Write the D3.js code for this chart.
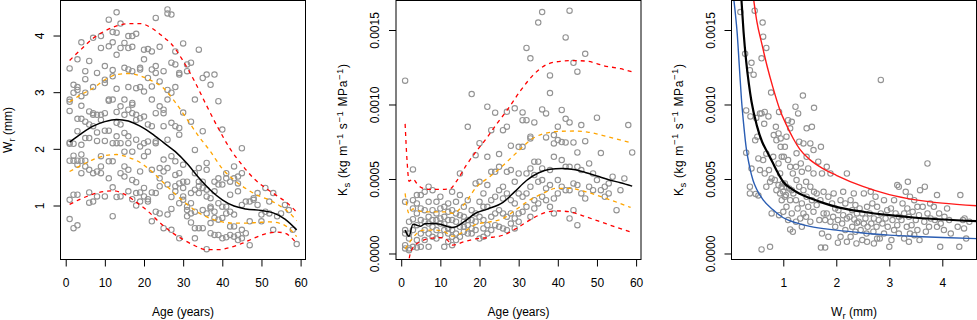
<!DOCTYPE html>
<html>
<head>
<meta charset="utf-8">
<script src="https://cdn.jsdelivr.net/npm/d3@7"></script>
<style>
  body { margin: 0; background: #fff; }
  svg { display: block; font-family: "Liberation Sans", Arial, sans-serif; }
</style>
</head>
<body>
<svg id="drawing_region"></svg>
<script>
// Ks values below are written in units of 1e-4 (kg m-1 s-1 MPa-1)
const KS_UNIT = 1e-4;

// panel 1: ring width Wr (mm) per age (years)
const wrByAge = [
  [1, [3.42, 2.87, 2.83, 2.67, 2.11, 2.09, 1.79, 1.10, 0.76]],
  [2, [3.13, 2.99, 2.09, 1.88, 1.79, 1.19, 0.60]],
  [3, [3.58, 3.09, 3.04, 2.53, 2.31, 1.79, 1.72, 1.19, 0.65]],
  [4, [3.88, 2.93, 2.76, 2.53, 2.07, 1.90, 1.79, 1.57]],
  [5, [3.37, 3.23, 2.99, 2.48, 2.19, 1.79, 1.69]],
  [6, [3.55, 2.66, 2.43, 2.19, 1.63, 1.23, 1.05]],
  [7, [3.96, 3.09, 2.63, 2.60, 2.40, 1.57, 1.07]],
  [8, [3.34, 2.60, 2.29, 2.14, 1.60, 1.16]],
  [9, [3.99, 3.78, 2.60, 2.51, 1.87, 1.69, 1.57]],
  [10, [3.46, 3.22, 3.16, 2.63, 2.32, 2.14, 1.16]],
  [11, [4.28, 3.81, 2.87, 2.85, 2.32, 1.78, 1.48]],
  [12, [4.06, 3.88, 3.39, 3.28, 2.87, 2.10, 1.78, 1.32, 0.81]],
  [13, [4.41, 4.05, 3.66, 3.06, 2.65, 2.46, 2.22, 2.10, 1.15]],
  [14, [4.21, 3.78, 2.75, 2.43, 2.10, 1.57, 1.16]],
  [15, [3.87, 3.43, 2.87, 2.60, 2.28, 1.95, 1.69, 1.51]],
  [16, [3.99, 3.78, 3.40, 3.09, 2.69, 2.22, 2.10, 1.63, 1.25]],
  [17, [3.99, 3.80, 3.37, 2.81, 2.78, 2.63, 1.95, 1.45, 1.11]],
  [18, [4.03, 3.07, 2.60, 2.51, 2.16, 1.41, 1.22, 1.00]],
  [19, [3.43, 3.40, 3.09, 2.54, 2.04, 1.60, 1.23, 1.07]],
  [20, [3.75, 3.58, 3.01, 2.57, 2.10, 1.87, 1.31, 1.16]],
  [21, [3.76, 3.25, 2.43, 2.13, 1.95, 1.11, 1.07]],
  [22, [3.72, 3.40, 3.10, 2.87, 2.40, 1.63, 1.23, 0.72]],
  [23, [4.31, 3.46, 3.34, 2.63, 2.13, 2.10, 1.22, 0.89]],
  [24, [3.80, 3.19, 2.75, 1.66, 1.48, 1.34, 0.86]],
  [25, [3.37, 2.69, 2.63, 2.40, 1.81, 1.60, 0.60]],
  [26, [4.46, 4.39, 3.04, 2.87, 2.16, 1.66, 1.37, 0.84]],
  [27, [4.37, 3.52, 2.99, 2.46, 1.87, 1.15, 0.94, 0.57]],
  [28, [3.72, 3.49, 3.09, 2.40, 1.78, 1.54, 1.34, 1.25]],
  [29, [3.34, 3.31, 2.37, 2.25, 1.57, 1.39, 1.04, 0.42]],
  [30, [3.86, 2.64, 1.72, 1.42, 1.31, 1.16, 1.10]],
  [31, [3.49, 3.37, 1.42, 0.98, 0.92, 0.81]],
  [32, [3.52, 2.48, 1.22, 1.04, 0.86, 0.70]],
  [33, [2.87, 1.98, 1.57, 1.28, 0.89, 0.60, 0.42]],
  [34, [3.75, 1.66, 1.42, 1.34, 1.22, 0.60]],
  [35, [3.25, 2.31, 1.42, 1.31, 0.92, 0.60]],
  [36, [3.31, 1.75, 1.63, 1.28, 1.16, 0.86, 0.23]],
  [37, [3.13, 1.13, 0.98, 0.95, 0.69, 0.51]],
  [38, [3.31, 1.42, 1.25, 0.89, 0.78, 0.48]],
  [39, [2.84, 1.48, 1.37, 1.04, 0.75, 0.48]],
  [40, [2.34, 1.37, 0.98, 0.78, 0.42]],
  [41, [1.57, 1.48, 0.98, 0.86, 0.44]],
  [42, [1.42, 1.19, 0.89, 0.63, 0.48]],
  [43, [1.69, 1.48, 0.84, 0.63, 0.45]],
  [44, [1.51, 1.39, 1.25, 0.48, 0.39]],
  [45, [2.01, 1.57, 1.01, 0.57, 0.42]],
  [46, [1.07, 0.51]],
  [47, [1.07, 0.72, 0.30]],
  [48, [1.13, 1.10]],
  [49, [1.22, 1.01]],
  [50, [0.84, 0.72]],
  [51, [1.31, 0.89]],
  [52, [1.07, 0.86]],
  [53, [1.22, 0.57]],
  [54, [0.81]],
  [55, [0.86]],
  [56, [1.01]],
  [57, [0.92]],
  [58, [0.57]],
  [59, [0.32]]
];

// panel 2: Ks (x 1e-4) per age
const ksByAge = [
  [1, [11.6, 3.47, 1.57, 1.34, 0.56, 0.34]],
  [2, [2.13, 1.34, 1.0, 0.34, 0.22]],
  [3, [5.64, 3.58, 3.02, 2.3, 1.57, 0.45]],
  [4, [3.92, 3.36, 2.69, 1.9, 0.9, 0.4]],
  [5, [3.92, 3.02, 2.24, 1.34, 0.45]],
  [6, [4.14, 2.91, 2.13, 1.57, 0.9]],
  [7, [4.48, 3.47, 2.46, 2.01, 1.34, 0.45]],
  [8, [4.25, 2.91, 2.24, 1.79, 1.12]],
  [9, [3.47, 2.69, 2.24, 1.57, 1.0]],
  [10, [3.81, 3.02, 2.35, 2.01, 1.23]],
  [11, [3.13, 2.46, 2.0, 1.57, 0.45]],
  [12, [3.36, 2.8, 2.24, 1.68, 1.34, 0.78]],
  [13, [4.14, 2.91, 2.24, 1.57, 1.12, 0.56]],
  [14, [3.47, 2.69, 2.13, 1.34, 0.9]],
  [15, [5.37, 3.92, 2.57, 1.79, 1.12]],
  [16, [3.13, 2.46, 2.13, 1.79, 1.46]],
  [17, [8.5, 3.58, 2.24, 1.9, 1.34]],
  [18, [10.7, 2.91, 2.24, 1.68, 1.34]],
  [19, [6.6, 4.7, 2.69, 2.13, 1.57]],
  [20, [7.4, 4.81, 3.47, 2.46, 1.0]],
  [21, [4.03, 3.13, 2.24, 1.68, 1.12]],
  [22, [9.85, 6.49, 4.59, 3.13, 1.9, 1.34]],
  [23, [8.28, 5.48, 3.58, 2.46, 1.57]],
  [24, [9.45, 5.48, 3.81, 2.69, 1.9]],
  [25, [6.67, 5.82, 4.25, 2.91, 1.79]],
  [26, [8.28, 4.48, 3.69, 2.69, 1.68]],
  [27, [9.51, 8.51, 5.48, 4.03, 2.46, 1.57]],
  [28, [7.23, 5.6, 3.58, 2.69, 2.01]],
  [29, [9.74, 4.81, 3.36, 2.35, 1.68]],
  [30, [7.16, 5.37, 4.03, 2.69, 2.13]],
  [31, [9.47, 8.95, 7.16, 3.81, 2.8]],
  [32, [13.8, 8.95, 5.37, 4.03, 3.13]],
  [33, [13.1, 7.84, 7.72, 5.71, 4.48, 2.46]],
  [34, [8.8, 6.16, 5.26, 3.58, 3.02]],
  [35, [15.5, 6.16, 4.81, 3.36]],
  [36, [16.2, 9.67, 5.71, 4.93, 3.81]],
  [37, [9.4, 7.79, 4.37, 3.58]],
  [38, [11.95, 10.77, 5.6, 4.59, 3.13]],
  [39, [7.95, 7.39, 6.49, 3.69, 2.69]],
  [40, [8.51, 7.61, 4.93, 4.03]],
  [41, [9.63, 7.48, 6.27, 4.48]],
  [42, [14.5, 9.04, 7.45, 5.82, 4.25]],
  [43, [16.3, 8.8, 5.82, 4.25, 2.35]],
  [44, [12.8, 7.45, 4.7, 2.91]],
  [45, [12.2, 6.78, 5.82, 4.59, 1.9]],
  [46, [8.62, 5.6, 4.03]],
  [47, [13.4, 7.54, 3.69]],
  [48, [6.04, 4.48]],
  [49, [5.37, 4.25]],
  [50, [9.11, 4.93]],
  [51, [6.74, 4.25]],
  [52, [4.48, 3.81]],
  [53, [4.7, 4.03]],
  [54, [5.15]],
  [55, [2.91]],
  [56, [4.25]],
  [57, [5.04]],
  [58, [8.62]],
  [59, [6.78]]
];

// panel 3: [Wr (mm), Ks (x 1e-4)]
const ksByWr = [
  [0.19, 16.2], [0.28, 13.4], [0.37, 12.3], [0.40, 12.8], [0.30, 9.6], [0.38, 9.2], [0.30, 6.76], [0.40, 5.7], [0.37, 4.03], [0.37, 4.48],
  [0.46, 16.3], [0.44, 12.0], [0.51, 7.84], [0.47, 7.6], [0.49, 9.1], [0.56, 9.4], [0.53, 6.38], [0.56, 5.6], [0.48, 4.0], [0.53, 3.9], [0.59, 0.27],
  [0.61, 15.5], [0.62, 14.55], [0.68, 13.8], [0.59, 13.1], [0.77, 10.8], [0.65, 9.5], [0.59, 9.4], [0.72, 9.2], [0.64, 8.7], [0.68, 6.7], [0.62, 6.27],
  [0.73, 5.6], [0.65, 5.37], [0.68, 4.48], [0.75, 4.81], [0.78, 5.04], [0.78, 2.69], [0.75, 0.45],
  [0.92, 9.5], [0.86, 8.5], [0.91, 8.06], [0.82, 7.95], [0.95, 7.72], [0.87, 7.6], [0.95, 7.16], [0.81, 6.49], [0.91, 6.04], [0.97, 6.49], [0.94, 5.37],
  [0.84, 4.93], [0.91, 4.59], [0.97, 4.48], [0.87, 4.25], [0.94, 4.03], [0.97, 3.58], [1.0, 2.8], [0.92, 2.57], [0.99, 4.7],
  [1.09, 8.95], [1.16, 8.84], [1.13, 8.4], [1.06, 7.84], [1.03, 7.16], [1.01, 6.49], [1.09, 6.27], [1.13, 5.82], [1.18, 5.37], [1.03, 4.7], [1.06, 4.48],
  [1.11, 4.37], [1.16, 4.25], [1.19, 4.03], [1.03, 3.81], [1.13, 3.58], [1.06, 3.13], [1.16, 2.69], [1.09, 2.24], [1.13, 1.61], [1.18, 1.46], [1.05, 3.92], [1.0, 4.14],
  [1.37, 10.6], [1.23, 9.85], [1.28, 9.4], [1.30, 7.5], [1.38, 7.39], [1.25, 6.72], [1.33, 6.04], [1.24, 5.82], [1.35, 5.48], [1.25, 4.93], [1.30, 4.48],
  [1.38, 4.25], [1.24, 3.58], [1.35, 3.36], [1.27, 3.02], [1.38, 2.69], [1.32, 2.35], [1.24, 2.13], [1.35, 1.79],
  [1.58, 9.78], [1.54, 8.5], [1.44, 8.4], [1.51, 7.39], [1.57, 6.94], [1.44, 6.49], [1.47, 5.71], [1.57, 5.37], [1.43, 4.81], [1.51, 4.48], [1.58, 4.14],
  [1.44, 3.81], [1.54, 3.58], [1.47, 3.13], [1.57, 2.8], [1.43, 2.46], [1.51, 2.13],
  [1.71, 7.16], [1.66, 6.16], [1.73, 5.37], [1.63, 4.03], [1.76, 4.14], [1.70, 3.58], [1.63, 3.25], [1.76, 2.69], [1.68, 2.24], [1.79, 2.24], [1.73, 1.34], [1.71, 0.4], [1.79, 0.4],
  [1.82, 5.82], [1.89, 5.37], [1.95, 4.03], [1.85, 3.81], [1.92, 3.36], [1.98, 3.02], [1.82, 2.69], [1.94, 2.46], [1.89, 2.13], [1.98, 1.79], [1.85, 1.12],
  [2.20, 5.37], [2.13, 4.14], [2.08, 3.58], [2.17, 3.36], [2.04, 2.91], [2.13, 2.57], [2.20, 2.35], [2.03, 2.24], [2.11, 2.01], [2.17, 1.57], [2.08, 1.12], [2.20, 0.78], [2.03, 0.72],
  [2.33, 4.03], [2.27, 3.58], [2.36, 3.25], [2.30, 2.91], [2.39, 2.69], [2.25, 2.46], [2.34, 2.28], [2.39, 2.06], [2.30, 1.79], [2.36, 1.46], [2.27, 1.12], [2.38, 0.67],
  [2.52, 4.03], [2.44, 3.02], [2.58, 3.13], [2.49, 2.69], [2.55, 2.35], [2.42, 2.13], [2.52, 2.01], [2.59, 1.79], [2.46, 1.57], [2.57, 1.34], [2.49, 0.9], [2.58, 0.78],
  [2.65, 4.14], [2.74, 3.81], [2.68, 3.36], [2.77, 3.13], [2.63, 2.69], [2.71, 2.35], [2.80, 2.24], [2.66, 2.01], [2.76, 1.79], [2.70, 1.46], [2.77, 1.0], [2.71, 0.67],
  [2.84, 11.65], [2.90, 3.58], [2.96, 2.91], [2.84, 2.69], [2.93, 2.35], [2.87, 2.01], [2.97, 1.79], [2.90, 1.34], [2.82, 1.0], [3.0, 0.45],
  [3.15, 4.59], [3.18, 4.48], [3.09, 3.58], [3.03, 3.02], [3.12, 2.69], [3.18, 2.46], [3.06, 2.24], [3.15, 1.9], [3.09, 1.57], [3.18, 1.34], [3.04, 0.9],
  [3.35, 4.81], [3.31, 4.14], [3.39, 3.81], [3.25, 3.36], [3.34, 3.02], [3.28, 2.69], [3.37, 2.46], [3.23, 2.24], [3.33, 1.79], [3.39, 1.34], [3.28, 1.0], [3.37, 0.78],
  [3.58, 4.25], [3.47, 3.58], [3.53, 3.13], [3.44, 2.8], [3.56, 2.57], [3.50, 2.24], [3.42, 1.9], [3.53, 1.57], [3.47, 1.23], [3.57, 0.9],
  [3.72, 6.04], [3.67, 4.48], [3.77, 3.36], [3.63, 3.13], [3.72, 2.69], [3.78, 2.35], [3.66, 2.13], [3.75, 1.79], [3.69, 1.46],
  [3.90, 3.92], [3.84, 3.13], [3.94, 2.69], [3.86, 2.24], [3.97, 2.01], [3.90, 1.79], [3.96, 0.45],
  [4.09, 3.02], [4.04, 2.46], [4.13, 2.24], [4.03, 1.57], [4.16, 1.34],
  [4.34, 3.92], [4.29, 1.79], [4.39, 2.24], [4.32, 0.45],
  [4.42, 2.35], [4.51, 2.13], [4.45, 1.0], [4.41, 1.68]
];

// fitted curves: [age, Wr]
const wrMean = [[1, 2.12], [4, 2.27], [7, 2.4], [10, 2.48], [13, 2.52], [16, 2.49], [19, 2.4], [22, 2.27], [25, 2.11], [28, 1.95], [31, 1.74], [34, 1.49], [37, 1.27], [40, 1.1], [43, 0.99], [46, 0.94], [50, 0.91], [53, 0.87], [56, 0.76], [59, 0.57]];
const wrUpper95 = [[1, 3.56], [4, 3.76], [7, 3.95], [10, 4.08], [13, 4.17], [16, 4.21], [19, 4.21], [22, 4.13], [25, 3.97], [27, 3.85], [30, 3.55], [33, 3.18], [36, 2.76], [39, 2.36], [42, 2.0], [45, 1.72], [48, 1.48], [51, 1.31], [54, 1.17], [57, 1.02], [59, 0.88]];
const wrUpper50 = [[1, 2.83], [4, 2.96], [7, 3.07], [10, 3.22], [13, 3.31], [16, 3.33], [19, 3.29], [22, 3.2], [25, 3.07], [28, 2.82], [31, 2.52], [34, 2.22], [37, 1.95], [40, 1.65], [43, 1.45], [46, 1.3], [49, 1.18], [52, 1.1], [55, 0.98], [57, 0.88], [59, 0.73]];
const wrLower50 = [[1, 1.6], [4, 1.71], [7, 1.81], [10, 1.88], [13, 1.9], [16, 1.85], [19, 1.76], [22, 1.6], [25, 1.4], [28, 1.2], [31, 1.02], [34, 0.87], [37, 0.77], [40, 0.71], [43, 0.69], [46, 0.69], [49, 0.7], [52, 0.71], [55, 0.68], [57, 0.6], [59, 0.45]];
const wrLower95 = [[1, 1.02], [4, 1.12], [7, 1.2], [10, 1.25], [12, 1.26], [15, 1.2], [18, 1.06], [21, 0.9], [24, 0.7], [27, 0.53], [30, 0.4], [33, 0.29], [36, 0.22], [39, 0.22], [42, 0.26], [45, 0.33], [48, 0.42], [51, 0.5], [54, 0.53], [56, 0.51], [59, 0.33]];

// [age, Ks x 1e-4]
const ksMean = [[1, 1.57], [2, 1.16], [3, 1.97], [4, 1.9], [5, 1.83], [6, 2.0], [8, 2.02], [10, 1.97], [12, 1.8], [13, 1.75], [14, 1.8], [16, 2.12], [19, 2.7], [22, 2.98], [26, 3.43], [29, 4.15], [32, 4.9], [35, 5.4], [38, 5.66], [41, 5.71], [44, 5.64], [47, 5.44], [50, 5.2], [53, 4.95], [56, 4.75], [59, 4.52]];
const ksUpper95 = [[1, 8.7], [1.5, 6.2], [2, 4.85], [3, 5.0], [4, 4.7], [5, 4.45], [7, 4.3], [10, 4.3], [12.5, 4.35], [14, 4.8], [16.7, 5.95], [19.3, 6.9], [22, 7.8], [24.4, 8.7], [27, 9.6], [30.4, 10.9], [33.8, 12.0], [37.3, 12.7], [40.7, 12.9], [44, 12.95], [47.6, 12.9], [51.8, 12.6], [56, 12.4], [59, 12.2]];
const ksUpper50 = [[1, 4.03], [2, 2.69], [3, 3.0], [4, 2.9], [6, 2.8], [8, 2.8], [11.6, 2.8], [13.2, 2.69], [15.9, 3.25], [19.3, 4.48], [22.6, 5.15], [26, 5.9], [28, 6.4], [30.4, 7.0], [33.8, 7.75], [37.3, 8.1], [40.7, 8.2], [44.1, 8.22], [47.6, 8.15], [52.7, 7.84], [59, 7.4]];
const ksLower50 = [[1, 0.3], [2, 0.7], [3, 1.05], [4, 1.35], [5.7, 1.57], [8.2, 1.57], [10.7, 1.5], [13.2, 1.16], [15.9, 1.45], [19.3, 1.97], [22.6, 2.12], [26, 2.35], [29.4, 2.96], [32.8, 3.58], [36.2, 4.03], [39.6, 4.37], [43, 4.37], [47.2, 4.14], [52.3, 3.7], [58.6, 3.09]];
const ksLower95 = [[1, -3.0], [2, -0.4], [3.1, 0.44], [4.8, 0.78], [7, 1.0], [9.9, 1.07], [11.6, 0.94], [13.2, 0.56], [15.9, 0.78], [19.3, 1.0], [22.6, 1.07], [26, 1.23], [29.4, 1.68], [32.8, 2.24], [36.2, 2.69], [39.6, 2.86], [43, 2.8], [47.2, 2.46], [52.3, 2.0], [58.6, 1.45]];

// [Wr, Ks x 1e-4]
const fitMid = [[0.2, 17.6], [0.25, 14.9], [0.3, 12.9], [0.35, 11.4], [0.4, 10.2], [0.5, 8.6], [0.6, 7.5], [0.7, 6.8], [0.8, 6.1], [0.9, 5.4], [1.0, 4.8], [1.15, 4.35], [1.3, 4.03], [1.5, 3.72], [1.75, 3.4], [2, 3.13], [2.5, 2.8], [3, 2.57], [3.5, 2.4], [4, 2.28], [4.65, 2.17]];
const fitHigh = [[0.42, 17.6], [0.5, 15.6], [0.6, 14.0], [0.7, 12.5], [0.8, 11.2], [0.94, 9.6], [1.05, 8.7], [1.19, 7.7], [1.31, 7.0], [1.5, 6.3], [1.75, 5.7], [2, 5.25], [2.5, 4.5], [3, 3.95], [3.5, 3.6], [4, 3.38], [4.65, 3.2]];
const fitLow = [[0.05, 17.6], [0.09, 16.3], [0.13, 14.8], [0.17, 12.6], [0.21, 10.4], [0.26, 8.4], [0.3, 7.1], [0.36, 5.9], [0.43, 4.9], [0.5, 4.3], [0.62, 3.6], [0.8, 2.95], [1.0, 2.4], [1.25, 2.05], [1.5, 1.82], [2, 1.57], [2.5, 1.38], [3, 1.23], [3.5, 1.14], [4, 1.07], [4.65, 1.0]];

const ageTicks = [0, 10, 20, 30, 40, 50, 60];
const wrTicks = [1, 2, 3, 4];
const ksTicks = [0, 0.0005, 0.0010, 0.0015];

const ageTitle = [['Age (years)']];
const wrTitle = [['W'], ['r', 'sub'], [' (mm)']];
const ksTitle = [['K'], ['s', 'sub'], [' (kg m'], ['\u22121', 'sup'], [' s'], ['\u22121', 'sup'], [' MPa'], ['\u22121', 'sup'], [')']];

const flat = (groups, k) => groups.flatMap(([x, vs]) => vs.map(v => [x, v * k]));
const scaled = (pts, k) => pts.map(([x, v]) => [x, v * k]);

const svg = d3.select('#drawing_region').attr('width', 977).attr('height', 320);

class BandPlot {
    constructor(config) {
        this.config = config;
        this.init();
    }

    init() {
        let self = this;
        let c = self.config;
        self.chart = svg.append('g');

        self.xScale = d3.scaleLinear()
            .domain(c.xDomain)
            .range([c.left, c.left + c.width]);
        self.yScale = d3.scaleLinear()
            .domain(c.yDomain)
            .range([c.top + c.height, c.top]);

        self.chart.append('clipPath')
            .attr('id', c.id + '-clip')
            .append('rect')
            .attr('x', c.left).attr('y', c.top)
            .attr('width', c.width).attr('height', c.height);

        self.line = d3.line()
            .x(d => self.xScale(d[0]))
            .y(d => self.yScale(d[1]))
            .curve(d3.curveMonotoneX);
    }

    richText(text, parts) {
        let shift = 0;
        parts.forEach(p => {
            let target = p[1] === 'sub' ? 3 : p[1] === 'sup' ? -4.5 : 0;
            text.append('tspan')
                .attr('dy', target - shift)
                .attr('font-size', p[1] ? 9.5 : 12)
                .text(p[0]);
            shift = target;
        });
    }

    render() {
        let self = this;
        let c = self.config;
        let bottom = c.top + c.height;

        // points
        self.chart.append('g')
            .selectAll('circle')
            .data(c.points)
            .join('circle')
            .attr('cx', d => self.xScale(d[0]))
            .attr('cy', d => self.yScale(d[1]))
            .attr('r', 2.7)
            .attr('fill', 'none')
            .attr('stroke', '#939393')
            .attr('stroke-width', 1.1);

        // curves
        self.chart.append('g')
            .attr('clip-path', `url(#${c.id}-clip)`)
            .selectAll('path')
            .data(c.lines)
            .join('path')
            .attr('d', d => self.line(d.data))
            .attr('fill', 'none')
            .attr('stroke', d => d.color)
            .attr('stroke-width', d => d.width)
            .attr('stroke-dasharray', d => d.dash || null);

        // box
        self.chart.append('rect')
            .attr('x', c.left).attr('y', c.top)
            .attr('width', c.width).attr('height', c.height)
            .attr('fill', 'none')
            .attr('stroke', 'black')
            .attr('stroke-width', 1);

        // axes
        let xAxis = self.chart.append('g')
            .attr('transform', `translate(0, ${bottom})`)
            .call(d3.axisBottom(self.xScale).tickValues(c.xTicks).tickSize(7).tickSizeOuter(0).tickFormat(d3.format('d')));
        xAxis.select('.domain').remove();
        xAxis.selectAll('text')
            .attr('y', 27).attr('dy', null)
            .attr('font-size', 12).attr('font-family', null).attr('fill', 'black');

        let yAxis = self.chart.append('g')
            .attr('transform', `translate(${c.left}, 0)`)
            .call(d3.axisLeft(self.yScale).tickValues(c.yTicks).tickSize(7).tickSizeOuter(0).tickFormat(c.yFormat));
        yAxis.select('.domain').remove();
        yAxis.selectAll('text')
            .attr('transform', 'rotate(-90)')
            .attr('x', 0).attr('y', -17).attr('dy', null)
            .attr('text-anchor', 'middle')
            .attr('font-size', 12).attr('font-family', null).attr('fill', 'black');
        self.chart.selectAll('.tick line').attr('stroke', 'black');

        // titles
        let xt = self.chart.append('text')
            .attr('x', c.left + c.width / 2)
            .attr('y', 316)
            .attr('text-anchor', 'middle');
        self.richText(xt, c.xTitle);

        let yt = self.chart.append('text')
            .attr('transform', `translate(${c.left - 49}, ${c.top + c.height / 2}) rotate(-90)`)
            .attr('text-anchor', 'middle');
        if (c.yTitleLength) {
            yt.attr('textLength', c.yTitleLength).attr('lengthAdjust', 'spacing');
        }
        self.richText(yt, c.yTitle);
    }
}

const common = { top: 0.5, width: 245, height: 259 };

new BandPlot(Object.assign({}, common, {
    id: 'p1', left: 60.5,
    xDomain: [-1.33, 61.25], yDomain: [0.047, 4.618],
    xTicks: ageTicks, yTicks: wrTicks, yFormat: d3.format('d'),
    xTitle: ageTitle, yTitle: wrTitle,
    points: flat(wrByAge, 1),
    lines: [
        { data: wrUpper95, color: '#ff0000', width: 1.3, dash: '4,4' },
        { data: wrLower95, color: '#ff0000', width: 1.3, dash: '4,4' },
        { data: wrUpper50, color: '#ffa500', width: 1.3, dash: '4,4' },
        { data: wrLower50, color: '#ffa500', width: 1.3, dash: '4,4' },
        { data: wrMean, color: 'black', width: 1.5 }
    ]
})).render();

new BandPlot(Object.assign({}, common, {
    id: 'p2', left: 396,
    xDomain: [-1.33, 61.25], yDomain: [-0.403e-4, 16.98e-4],
    xTicks: ageTicks, yTicks: ksTicks, yFormat: d3.format('.4f'),
    xTitle: ageTitle, yTitle: ksTitle, yTitleLength: 132,
    points: flat(ksByAge, KS_UNIT),
    lines: [
        { data: scaled(ksUpper95, KS_UNIT), color: '#ff0000', width: 1.3, dash: '4,4' },
        { data: scaled(ksLower95, KS_UNIT), color: '#ff0000', width: 1.3, dash: '4,4' },
        { data: scaled(ksUpper50, KS_UNIT), color: '#ffa500', width: 1.3, dash: '4,4' },
        { data: scaled(ksLower50, KS_UNIT), color: '#ffa500', width: 1.3, dash: '4,4' },
        { data: scaled(ksMean, KS_UNIT), color: 'black', width: 1.5 }
    ]
})).render();

new BandPlot(Object.assign({}, common, {
    id: 'p3', left: 731.5,
    xDomain: [0.023, 4.645], yDomain: [-0.403e-4, 16.98e-4],
    xTicks: wrTicks, yTicks: ksTicks, yFormat: d3.format('.4f'),
    xTitle: wrTitle, yTitle: ksTitle, yTitleLength: 132,
    points: scaled(ksByWr, KS_UNIT),
    lines: [
        { data: scaled(fitHigh, KS_UNIT), color: '#ff1a1a', width: 1.4 },
        { data: scaled(fitLow, KS_UNIT), color: '#2a5db3', width: 1.4 },
        { data: scaled(fitMid, KS_UNIT), color: 'black', width: 2.2 }
    ]
})).render();
</script>
</body>
</html>
